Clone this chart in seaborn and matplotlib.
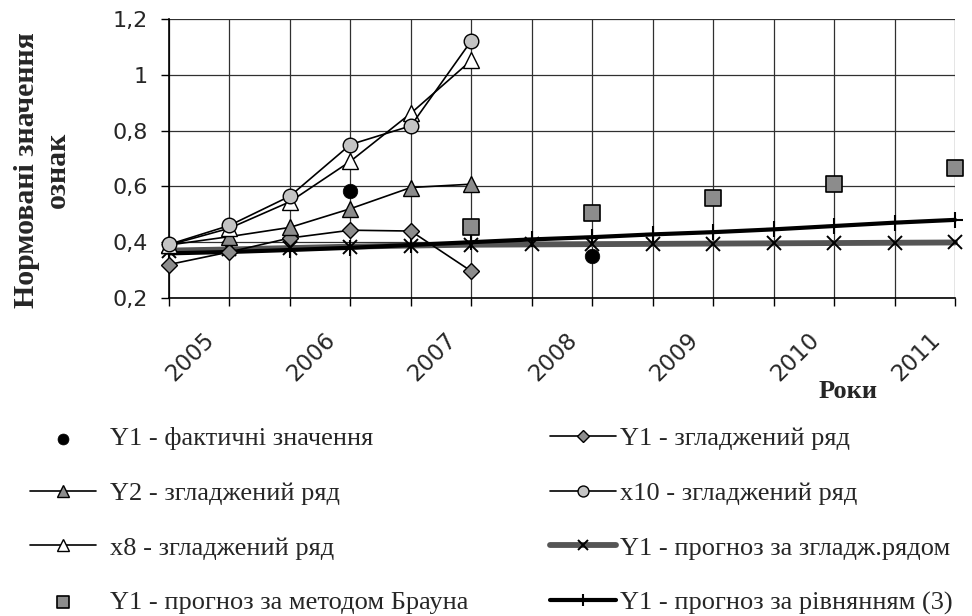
import numpy as np
import pandas as pd
import matplotlib
matplotlib.use("Agg")
import matplotlib.pyplot as plt
import seaborn as sns

# ---------------- data ----------------
periods = ["2005 I", "2005 II", "2006 I", "2006 II", "2007 I", "2007 II",
           "2008 I", "2008 II", "2009 I", "2009 II", "2010 I", "2010 II",
           "2011 I", "2011 II"]
year_labels = ["2005", "2006", "2007", "2008", "2009", "2010", "2011"]
y_ticks = [0.2, 0.4, 0.6, 0.8, 1.0, 1.2]
y_tick_labels = ["0,2", "0,4", "0,6", "0,8", "1", "1,2"]

nan = np.nan
y1_actual = [nan, nan, nan, 0.585, nan, nan, nan, 0.35, nan, nan, nan, nan, nan, nan]
y1_smoothed = [0.32, 0.365, 0.415, 0.443, 0.44, 0.296, nan, nan, nan, nan, nan, nan, nan, nan]
y2_smoothed = [0.39, 0.42, 0.453, 0.52, 0.596, 0.608, nan, nan, nan, nan, nan, nan, nan, nan]
x10_smoothed = [0.392, 0.46, 0.565, 0.75, 0.817, 1.122, nan, nan, nan, nan, nan, nan, nan, nan]
x8_smoothed = [0.39, 0.45, 0.545, 0.69, 0.862, 1.052, nan, nan, nan, nan, nan, nan, nan, nan]
y1_fc_smooth = [0.37, 0.374, 0.379, 0.384, 0.388, 0.391, 0.392, 0.393, 0.394,
                0.395, 0.396, 0.397, 0.398, 0.399]
y1_fc_brown = [nan, nan, nan, nan, nan, 0.454, nan, 0.503, nan, 0.558, nan, 0.609, nan, 0.665]
y1_fc_eq = [0.36, 0.365, 0.372, 0.38, 0.39, 0.4, 0.41, 0.418, 0.428, 0.436,
            0.446, 0.458, 0.47, 0.48]

labels = {
    "actual": "Y1 - фактичні значення",
    "y1s": "Y1 - згладжений ряд",
    "y2s": "Y2 - згладжений ряд",
    "x10s": "x10 - згладжений ряд",
    "x8s": "x8 - згладжений ряд",
    "fcs": "Y1 - прогноз за згладж.рядом",
    "brown": "Y1 - прогноз за методом Брауна",
    "eq": "Y1 - прогноз за рівнянням (3)",
}

df = pd.DataFrame({
    "idx": np.arange(len(periods)),
    "period": periods,
    "actual": y1_actual, "y1s": y1_smoothed, "y2s": y2_smoothed,
    "x10s": x10_smoothed, "x8s": x8_smoothed, "fcs": y1_fc_smooth,
    "brown": y1_fc_brown, "eq": y1_fc_eq,
})

# ---------------- figure ----------------
sns.set_theme(style="white")
plt.rcParams["font.family"] = ["DejaVu Sans"]

W, H = 972, 616
fig = plt.figure(figsize=(W / 100, H / 100), dpi=100)
ax = fig.add_axes([169 / W, (H - 298) / H, (955 - 169) / W, (298 - 19) / H])

handles = {}

def line(col, **kw):
    sns.lineplot(data=df.dropna(subset=[col]), x="idx", y=col, ax=ax,
                 legend=False, **kw)
    h = ax.lines[-1]
    h.set_clip_on(False)
    h.set_label(labels[col])
    handles[col] = h

line("fcs", color="#555555", lw=4.2, marker="x", markersize=10,
     markeredgecolor="black", markeredgewidth=1.4, zorder=3)
line("eq", color="black", lw=3.0, marker="+", markersize=12,
     markeredgecolor="black", markeredgewidth=1.5, zorder=4)
line("y1s", color="black", lw=1.2, marker="D", markersize=8.5,
     markerfacecolor="#8c8c8c", markeredgecolor="black", markeredgewidth=1.0, zorder=5)
line("y2s", color="black", lw=1.2, marker="^", markersize=11,
     markerfacecolor="#8c8c8c", markeredgecolor="black", markeredgewidth=1.0, zorder=5)
line("x8s", color="black", lw=1.2, marker="^", markersize=11,
     markerfacecolor="white", markeredgecolor="black", markeredgewidth=1.0, zorder=6)
line("x10s", color="black", lw=1.2, marker="o", markersize=10.5,
     markerfacecolor="#c4c4c4", markeredgecolor="black", markeredgewidth=1.0, zorder=7)

sns.scatterplot(data=df, x="idx", y="brown", ax=ax, marker="s", s=120,
                color="#8c8c8c", edgecolor="black", linewidth=1.2, zorder=8,
                legend=False)
handles["brown"] = ax.collections[-1]
handles["brown"].set_label(labels["brown"])
handles["brown"].set_clip_on(False)
sns.scatterplot(data=df, x="idx", y="actual", ax=ax, marker="o", s=110,
                color="black", edgecolor="black", linewidth=0.5, zorder=8,
                legend=False)
handles["actual"] = ax.collections[-1]
handles["actual"].set_label(labels["actual"])

if ax.get_legend() is not None:
    ax.get_legend().remove()

# ---------------- axes ----------------
ax.set_xlim(0, len(periods) - 1)
ax.set_ylim(0.2, 1.2)
ax.set_xlabel("")
ax.set_ylabel("")

ax.set_xticks(np.arange(len(periods)))
ax.set_xticklabels([""] * len(periods))
ax.set_xticks(np.arange(len(year_labels)) * 2 + 0.36, minor=True)
ax.set_xticklabels(year_labels, minor=True, rotation=45, ha="center",
                   fontsize=16.5)
ax.tick_params(axis="x", which="major", direction="out", length=6, width=1,
               color="black", bottom=True)
ax.tick_params(axis="x", which="minor", length=0, pad=22, bottom=True)

ax.set_yticks(y_ticks)
ax.set_yticklabels(y_tick_labels, fontsize=16)
ax.tick_params(axis="y", which="major", direction="out", length=6, width=1,
               color="black", pad=9, left=True)

ax.grid(True, which="major", color="#303030", lw=0.9)
ax.grid(False, which="minor")
for s in ["top", "right"]:
    ax.spines[s].set_visible(False)
for s in ["left", "bottom"]:
    ax.spines[s].set_color("black")
    ax.spines[s].set_linewidth(1.2)

# ---------------- texts ----------------
serif = ["Liberation Serif", "DejaVu Serif"]
fig.text(42 / W, 1 - 170 / H, "Нормовані значення\nознак", rotation=90,
         ha="center", va="center", multialignment="center", fontsize=21.5,
         fontweight="bold", family=serif)
fig.text(848 / W, 1 - 391 / H, "Роки", ha="center", va="center",
         fontsize=19, fontweight="bold", family=serif)

# ---------------- legends ----------------
leg_kw = dict(frameon=False, loc="upper left", borderpad=0, borderaxespad=0,
              handlelength=2.5, labelspacing=1.18, markerscale=0.75,
              prop={"family": serif, "size": 19})
left_keys = ["actual", "y2s", "x8s", "brown"]
right_keys = ["y1s", "x10s", "fcs", "eq"]
leg1 = fig.legend([handles[k] for k in left_keys], [labels[k] for k in left_keys],
                  bbox_to_anchor=(30 / W, 1 - 427 / H), handletextpad=0.55, **leg_kw)
leg2 = fig.legend([handles[k] for k in right_keys], [labels[k] for k in right_keys],
                  bbox_to_anchor=(550 / W, 1 - 427 / H), handletextpad=0.15, **leg_kw)

fig.savefig("out.png", dpi=100)
